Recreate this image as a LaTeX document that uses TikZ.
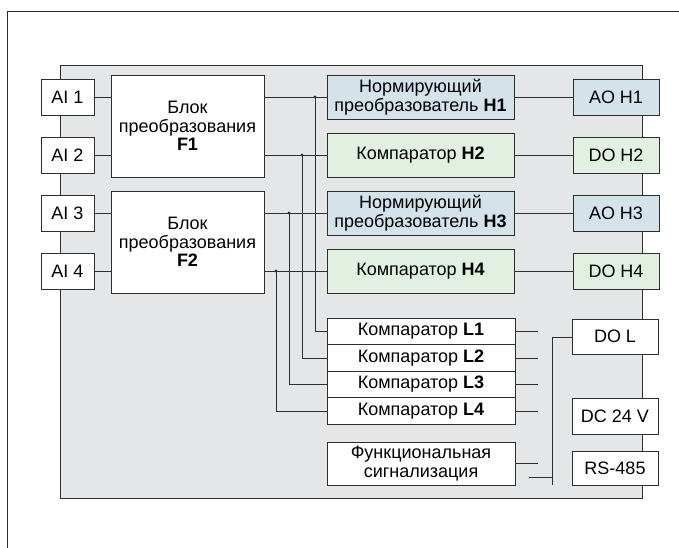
\documentclass[tikz,border=0pt]{standalone}
\usepackage{fontspec}
\setmainfont{Liberation Sans}
\usepackage{xcolor}
\usetikzlibrary{positioning}

\definecolor{panelgrey}{HTML}{E5E6E8}
\definecolor{normblue}{HTML}{D4E2EA}
\definecolor{compgreen}{HTML}{E1F0E1}
\definecolor{linegrey}{HTML}{2E2E2E}

\tikzset{
	blk/.style = {draw=linegrey, line width=0.9pt, fill=white, align=center, inner sep=0pt,
		font=\fontsize{18}{18.5}\selectfont},
	normblk/.style = {blk, fill=normblue},
	compblk/.style = {blk, fill=compgreen},
	wire/.style = {linegrey, line width=0.9pt},
	jdot/.style = {circle, fill=linegrey, inner sep=0pt, minimum size=3.2pt}
}

\begin{document}
\begin{tikzpicture}[x=1pt, y=-1pt]
			\useasboundingbox (0,0) rectangle (679,548);
			
			% frame and housing
			\draw [wire] (7,548) -- (7,11) -- (679,11);
			\draw [wire, fill=panelgrey] (60,65) rectangle (642,498);
			
			% inputs
			\node [blk, minimum width=53pt, minimum height=36pt] (ai1) at (67.5, 97) {AI 1};
			\node [blk, minimum width=53pt, minimum height=36pt] (ai2) at (67.5,155) {AI 2};
			\node [blk, minimum width=53pt, minimum height=36pt] (ai3) at (67.5,213) {AI 3};
			\node [blk, minimum width=53pt, minimum height=36pt] (ai4) at (67.5,271) {AI 4};
			
			\node [blk, minimum width=153pt, minimum height=102pt] (f1) at (187.5,126)
			{Блок\\преобразования\\\textbf{F1}};
			\node [blk, minimum width=153pt, minimum height=102pt] (f2) at (187.5,242)
			{Блок\\преобразования\\\textbf{F2}};
			
			% H channels
			\node [normblk, minimum width=187pt, minimum height=44pt] (h1) at (420.5, 97)
			{Нормирующий\\преобразователь \textbf{H1}};
			\node [compblk, minimum width=187pt, minimum height=44pt] (h2) at (420.5,155)
			{Компаратор \textbf{H2}};
			\node [normblk, minimum width=187pt, minimum height=44pt] (h3) at (420.5,213)
			{Нормирующий\\преобразователь \textbf{H3}};
			\node [compblk, minimum width=187pt, minimum height=44pt] (h4) at (420.5,271)
			{Компаратор \textbf{H4}};
			
			\node [normblk, minimum width=86pt, minimum height=36pt] (aoh1) at (616, 97) {AO H1};
			\node [compblk, minimum width=86pt, minimum height=36pt] (doh2) at (616,155) {DO H2};
			\node [normblk, minimum width=86pt, minimum height=36pt] (aoh3) at (616,213) {AO H3};
			\node [compblk, minimum width=86pt, minimum height=36pt] (doh4) at (616,271) {DO H4};
			
			% L comparators
			\foreach \i in {1,...,4}
			\node [blk, minimum width=188pt, minimum height=26.5pt] (l\i) at (421, 305+26.5*\i)
			{Компаратор \textbf{L\i}};
			
			\node [blk, minimum width=188pt, minimum height=43pt] (fs) at (421,463.5)
			{Функциональная\\сигнализация};
			
			\node [blk, minimum width=86pt, minimum height=35pt] (dol) at (615,336.5) {DO L};
			\node [blk, minimum width=86pt, minimum height=36pt] (dc) at (615,416) {DC 24 V};
			\node [blk, minimum width=86pt, minimum height=34pt] (rs) at (615,468) {RS-485};
			
			% wiring
			\draw [wire] (ai1) -- (f1.west |- ai1);
			\draw [wire] (ai2) -- (f1.west |- ai2);
			\draw [wire] (ai3) -- (f2.west |- ai3);
			\draw [wire] (ai4) -- (f2.west |- ai4);
			
			\draw [wire] (f1.east |- h1) -- (h1);
			\draw [wire] (f1.east |- h2) -- (h2);
			\draw [wire] (f2.east |- h3) -- (h3);
			\draw [wire] (f2.east |- h4) -- (h4);
			
			\draw [wire] (h1) -- (aoh1);
			\draw [wire] (h2) -- (doh2);
			\draw [wire] (h3) -- (aoh3);
			\draw [wire] (h4) -- (doh4);
			
			\node [jdot] (j1) at (315, 97) {};
			\node [jdot] (j2) at (302,155) {};
			\node [jdot] (j3) at (289,213) {};
			\node [jdot] (j4) at (276,271) {};
			\foreach \i in {1,...,4}
			\draw [wire] (j\i.center) |- (l\i.west);
			
			% right stubs
			\foreach \i in {1,...,4}
			\draw [wire] (l\i.east) -- ++(23,0);
			\draw [wire] (fs.east |- 0,463) -- ++(23,0);
			\draw [wire] (529,477) -- (552,477);
			\draw [wire] (552,485) -- (552,337) -- (dol.west |- 0,337);
		\end{tikzpicture}
\end{document}
